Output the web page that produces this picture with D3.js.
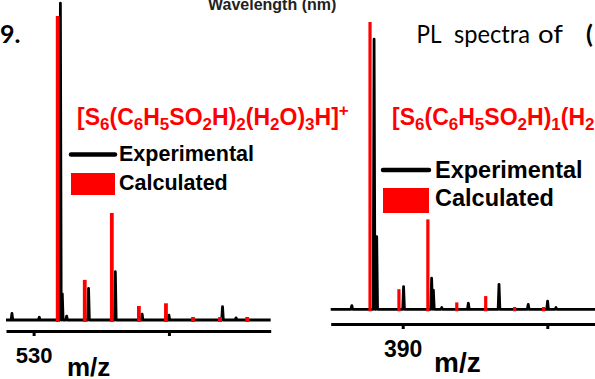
<!DOCTYPE html>
<html>
<head>
<meta charset="utf-8">
<script src="https://cdn.jsdelivr.net/npm/d3@7"></script>
<style>
  html, body { margin: 0; padding: 0; background: #fff; }
  svg { display: block; }
</style>
</head>
<body>
<svg id="chart" width="595" height="379"></svg>
<script>
// ---- Isotope pattern of [S6(C6H5SO2H)2(H2O)3H]+ (left panel) ----
const leftCalcMz  = [530.89, 531.89, 532.89, 533.89, 534.89, 535.89, 536.89, 537.89];
const leftCalcInt = [100, 13.2, 35.2, 4.6, 5.5, 1.0, 1.0, 1.0];
const leftExpMz   = [529.20, 530.21, 530.99, 531.06, 531.22, 532.03, 533.02, 534.01, 535.00, 536.98, 537.48];
const leftExpInt  = [2.2, 0.9, 104.2, 8.6, 1.3, 10.4, 15.9, 1.9, 1.6, 4.4, 0.7];
const leftTicks      = [530, 535];
const leftTickLabels = ["530", ""];

// ---- Isotope pattern of [S6(C6H5SO2H)1(H2O)3H]+ (right panel) ----
const rightCalcMz  = [388.87, 389.87, 390.87, 391.87, 392.87, 393.87, 394.87];
const rightCalcInt = [100, 7.0, 31.3, 2.4, 4.6, 0.8, 0.8];
const rightExpMz   = [388.24, 389.01, 389.10, 390.03, 391.00, 391.06, 391.35, 392.27, 393.33, 394.34, 395.01, 395.30];
const rightExpInt  = [1.3, 94.0, 25.3, 7.9, 10.8, 6.7, 0.6, 2.1, 8.7, 1.7, 2.8, 0.6];
const rightTicks      = [390, 395];
const rightTickLabels = ["390", ""];

const legendLabels = ["Experimental", "Calculated"];
const axisTitle = "m/z";

// formula pieces: [text, role]
const leftFormula = [["[S",""],["6","sub"],["(C",""],["6","sub"],["H",""],["5","sub"],["SO",""],["2","sub"],
  ["H)",""],["2","sub"],["(H",""],["2","sub"],["O)",""],["3","sub"],["H]",""],["+","sup"]];
const rightFormula = [["[S",""],["6","sub"],["(C",""],["6","sub"],["H",""],["5","sub"],["SO",""],["2","sub"],
  ["H)",""],["1","sub"],["(H",""],["2","sub"],["O)",""],["3","sub"],["H]",""],["+","sup"]];

const RED = "#ff0000";
const ARIAL = "'Liberation Sans', Arial, sans-serif";
const BODY = "Lato, 'Open Sans', sans-serif";

const svg = d3.select("#chart");

// surrounding page text
svg.append("text").attr("x", 208).attr("y", 9.5).attr("font-family", ARIAL)
  .attr("font-weight", "bold").attr("font-size", 16).attr("fill", "#222").text("Wavelength (nm)");
svg.append("text").attr("x", 0).attr("y", 43).attr("font-family", BODY)
  .attr("font-weight", "bold").attr("font-size", 25).attr("fill", "#000").text("9.");
const cap = svg.append("g").attr("font-family", BODY).attr("font-size", 25).attr("fill", "#000");
[["PL", 416.5, "normal", 25], ["spectra", 454, "normal", 76], ["of", 538, "normal", 25], ["(", 586, "bold", 0]]
  .forEach(([t, x, w, len]) => {
    const tx = cap.append("text").attr("x", x).attr("y", 43).attr("font-weight", w).text(t);
    if (len) tx.attr("textLength", len).attr("lengthAdjust", "spacingAndGlyphs");
  });

function drawFormula(parent, parts, x, y, size) {
  const t = parent.append("text").attr("x", x).attr("y", y).attr("font-family", ARIAL)
    .attr("font-weight", "bold").attr("font-size", size).attr("fill", RED);
  let shift = 0;
  parts.forEach(([s, role]) => {
    const target = role === "sub" ? size * 0.22 : role === "sup" ? -size * 0.38 : 0;
    t.append("tspan").attr("dy", target - shift)
      .attr("font-size", role ? size * 0.74 : size).text(s);
    shift = target;
  });
}

function panel(cfg) {
  const g = svg.append("g");
  const x = d3.scaleLinear().domain(cfg.domain).range(cfg.range);
  const y = d3.scaleLinear().domain([0, 100]).range(cfg.yRange);

  // experimental trace: baseline with stick spikes
  const pts = [[cfg.domain[0], 0]];
  cfg.expMz.forEach((m, i) => {
    pts.push([m - cfg.halfW, 0], [m, cfg.expInt[i]], [m + cfg.halfW, 0]);
  });
  pts.push([cfg.domain[1], 0]);
  g.append("path").datum(pts)
    .attr("d", d3.line().x(d => x(d[0])).y(d => y(d[1])))
    .attr("fill", "none").attr("stroke", "#000").attr("stroke-width", 2.8)
    .attr("stroke-linejoin", "round");

  // calculated isotope sticks
  g.selectAll("rect.calc").data(cfg.calcMz.map((m, i) => [m, cfg.calcInt[i]]))
    .join("rect").attr("class", "calc")
    .attr("x", d => x(d[0]) - cfg.barW / 2)
    .attr("width", cfg.barW)
    .attr("y", d => y(d[1]))
    .attr("height", d => y(0) - y(d[1]) + 2)
    .attr("fill", RED);

  // bottom axis
  const ax = g.append("g").attr("transform", `translate(0,${cfg.axisY})`)
    .call(d3.axisBottom(x).tickValues(cfg.ticks).tickSize(5).tickSizeOuter(0)
      .tickFormat((d, i) => cfg.tickLabels[i]));
  ax.select(".domain").attr("stroke", "#000").attr("stroke-width", 3);
  ax.selectAll(".tick line").attr("stroke", "#000").attr("stroke-width", 3);
  ax.selectAll(".tick text").attr("font-family", ARIAL).attr("font-weight", "bold")
    .attr("font-size", cfg.tickFont).attr("fill", "#000").attr("y", cfg.tickTextY).attr("dy", 0);

  svg.append("text").attr("x", cfg.titleX).attr("y", cfg.titleY).attr("font-family", ARIAL)
    .attr("font-weight", "bold").attr("font-size", cfg.titleFont).attr("fill", "#000").text(axisTitle);

  // legend
  const lg = svg.append("g").attr("font-family", ARIAL).attr("font-weight", "bold").attr("fill", "#000");
  lg.append("line").attr("x1", cfg.legX).attr("x2", cfg.legX + cfg.legW)
    .attr("y1", cfg.legY1).attr("y2", cfg.legY1).attr("stroke", "#000").attr("stroke-width", 4.5)
    .attr("stroke-linecap", "round");
  lg.append("text").attr("x", cfg.legTextX).attr("y", cfg.legY1Text)
    .attr("font-size", cfg.legFont).text(legendLabels[0]);
  lg.append("rect").attr("x", cfg.legX).attr("width", cfg.legW)
    .attr("y", cfg.legRectY).attr("height", cfg.legRectH).attr("fill", RED);
  lg.append("text").attr("x", cfg.legTextX).attr("y", cfg.legY2Text)
    .attr("font-size", cfg.legFont).text(legendLabels[1]);

  drawFormula(svg, cfg.formula, cfg.fx, cfg.fy, cfg.fsize);
}

panel({
  domain: [528.98, 538.76], range: [6, 270.7], yRange: [320, 16], axisY: 331,
  calcMz: leftCalcMz, calcInt: leftCalcInt, expMz: leftExpMz, expInt: leftExpInt,
  ticks: leftTicks, tickLabels: leftTickLabels, tickFont: 22, tickTextY: 32,
  halfW: 0.03, barW: 3.8,
  titleX: 67, titleY: 376, titleFont: 26,
  legX: 71, legW: 44, legY1: 154.5, legY1Text: 161, legTextX: 119, legFont: 21.5,
  legRectY: 173, legRectH: 22, legY2Text: 190,
  formula: leftFormula, fx: 77, fy: 125, fsize: 23
});

panel({
  domain: [387.51, 397.5], range: [330.7, 619.6], yRange: [309.3, 22], axisY: 324,
  calcMz: rightCalcMz, calcInt: rightCalcInt, expMz: rightExpMz, expInt: rightExpInt,
  ticks: rightTicks, tickLabels: rightTickLabels, tickFont: 23, tickTextY: 33,
  halfW: 0.03, barW: 3.2,
  titleX: 434, titleY: 372, titleFont: 28,
  legX: 383, legW: 46, legY1: 170, legY1Text: 177.5, legTextX: 435, legFont: 23.5,
  legRectY: 188, legRectH: 25, legY2Text: 205.5,
  formula: rightFormula, fx: 392, fy: 125, fsize: 23
});
</script>
</body>
</html>
